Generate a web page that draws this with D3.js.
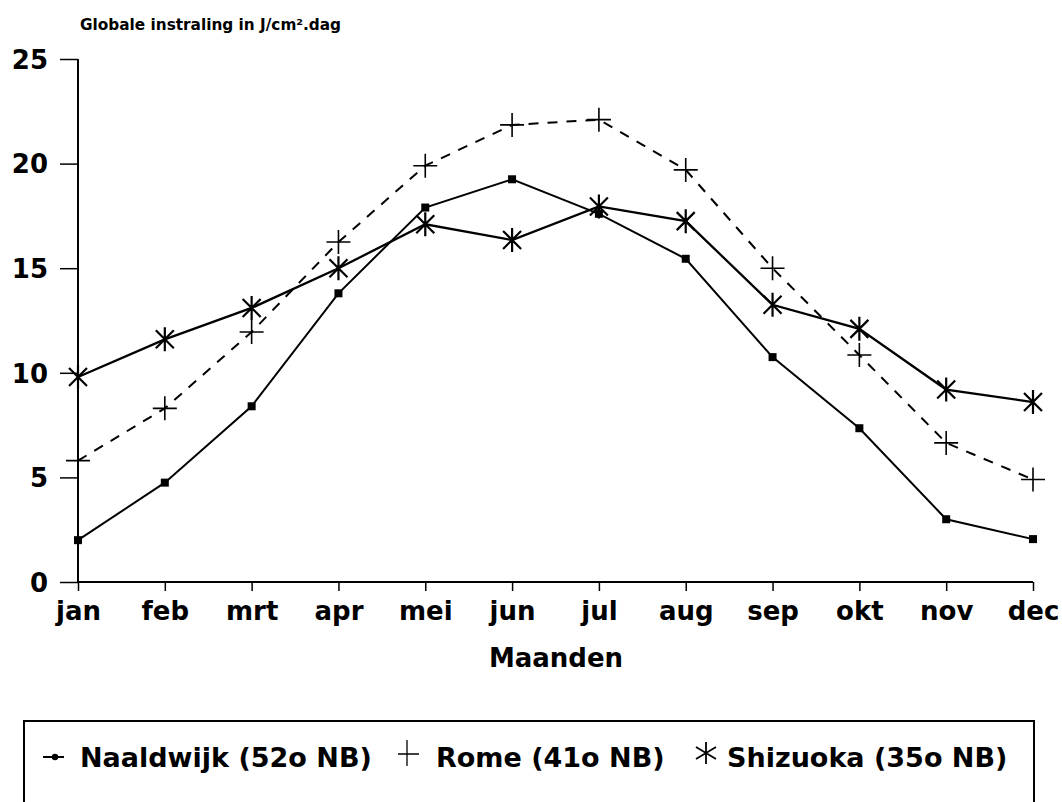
<!DOCTYPE html>
<html><head><meta charset="utf-8">
<script src="https://cdn.jsdelivr.net/npm/d3@7"></script>
<style>
html,body{margin:0;padding:0;background:#fff;}
svg text{font-family:"DejaVu Sans",sans-serif;font-weight:bold;fill:#000;}
</style></head>
<body>
<svg id="chart" width="1062" height="802"></svg>
<script>
const months = ["jan","feb","mrt","apr","mei","jun","jul","aug","sep","okt","nov","dec"];
const naaldwijk = [2.0, 4.75, 8.4, 13.8, 17.9, 19.25, 17.6, 15.45, 10.75, 7.35, 3.0, 2.05];
const rome      = [5.8, 8.3, 11.95, 16.25, 19.9, 21.85, 22.1, 19.7, 15.0, 10.85, 6.65, 4.9];
const shizuoka  = [9.8, 11.6, 13.1, 15.0, 17.1, 16.35, 17.95, 17.25, 13.25, 12.1, 9.2, 8.6];
const yTicks = [0, 5, 10, 15, 20, 25];
const seriesNames = ["Naaldwijk (52o NB)", "Rome (41o NB)", "Shizuoka (35o NB)"];
const yTitle = "Globale instraling in J/cm².dag";
const xTitle = "Maanden";

const svg = d3.select("#chart");
const x = d3.scalePoint().domain(months).range([78, 1033]);
const y = d3.scaleLinear().domain([0, 25]).range([582, 59]);

// Y axis
const yAxis = d3.axisLeft(y).tickValues(yTicks).tickSize(18).tickPadding(12).tickFormat(d3.format("d"));
const gy = svg.append("g").attr("transform", "translate(78,0)").call(yAxis);
gy.select(".domain").attr("stroke", "#000").attr("stroke-width", 2).attr("d", `M0,${y(25)}V${y(0)}`);
gy.selectAll(".tick line").attr("stroke", "#000").attr("stroke-width", 1.5);
gy.selectAll(".tick text").style("font-size", "26px").attr("dy", "0.36em");

// X axis
const xAxis = d3.axisBottom(x).tickSize(9).tickPadding(10);
const gx = svg.append("g").attr("transform", `translate(0,${y(0)})`).call(xAxis);
gx.select(".domain").attr("stroke", "#000").attr("stroke-width", 2).attr("d", `M${x("jan")},0H${x("dec")}`);
gx.selectAll(".tick line").attr("stroke", "#000").attr("stroke-width", 1.5);
gx.selectAll(".tick text").style("font-size", "26px").attr("y", 38).attr("dy", 0);

// Titles
svg.append("text").attr("x", 80).attr("y", 30).style("font-size", "15.3px").text(yTitle);
svg.append("text").attr("x", 556).attr("y", 667).attr("text-anchor", "middle").style("font-size", "26px").text(xTitle);

const line = d3.line().x((d, i) => x(months[i])).y(d => y(d));

// Naaldwijk
svg.append("path").datum(naaldwijk).attr("d", line).attr("fill", "none").attr("stroke", "#000").attr("stroke-width", 2);
svg.selectAll(".nsq").data(naaldwijk).enter().append("rect")
  .attr("x", (d, i) => x(months[i]) - 4).attr("y", d => y(d) - 4).attr("width", 8).attr("height", 8).attr("fill", "#000");

// Rome
svg.append("path").datum(rome).attr("d", line).attr("fill", "none").attr("stroke", "#000").attr("stroke-width", 2).attr("stroke-dasharray", "10,9");
const plusPath = "M-12,0H12M0,-12V12";
svg.selectAll(".rp").data(rome).enter().append("path")
  .attr("transform", (d, i) => `translate(${x(months[i])},${y(d)})`)
  .attr("d", plusPath).attr("stroke", "#000").attr("stroke-width", 1.6).attr("fill", "none");

// Shizuoka
svg.append("path").datum(shizuoka).attr("d", line).attr("fill", "none").attr("stroke", "#000").attr("stroke-width", 2.3);
const starPath = "M0,-12V12M-9,-9L9,9M-9,9L9,-9";
svg.selectAll(".ss").data(shizuoka).enter().append("path")
  .attr("transform", (d, i) => `translate(${x(months[i])},${y(d)})`)
  .attr("d", starPath).attr("stroke", "#000").attr("stroke-width", 2.2).attr("fill", "none");

// Legend
svg.append("rect").attr("x", 24).attr("y", 721).attr("width", 1010).attr("height", 100)
  .attr("fill", "none").attr("stroke", "#000").attr("stroke-width", 2);
const lb = 767;       // text baseline
const lm = lb - 10;   // marker centre
const lg = svg.append("g");
lg.append("path").attr("d", `M43,${lm}H64`).attr("stroke", "#000").attr("stroke-width", 2);
lg.append("circle").attr("cx", 55).attr("cy", lm).attr("r", 3.2).attr("fill", "#000");
lg.append("text").attr("x", 80).attr("y", lb).style("font-size", "27px").text(seriesNames[0]);
lg.append("path").attr("d", `M398,${lm - 3}H419M407,${lm - 17}V${lm + 9}`).attr("stroke", "#000").attr("stroke-width", 1.3);
lg.append("text").attr("x", 436).attr("y", lb).style("font-size", "27px").text(seriesNames[1]);
lg.append("path").attr("transform", `translate(706,${lm - 4})`).attr("d", "M0,-11V11M-10,-6L10,6M-10,6L10,-6")
  .attr("stroke", "#000").attr("stroke-width", 1.8).attr("fill", "none");
lg.append("text").attr("x", 727).attr("y", lb).style("font-size", "27px").text(seriesNames[2]);
</script>
</body></html>
